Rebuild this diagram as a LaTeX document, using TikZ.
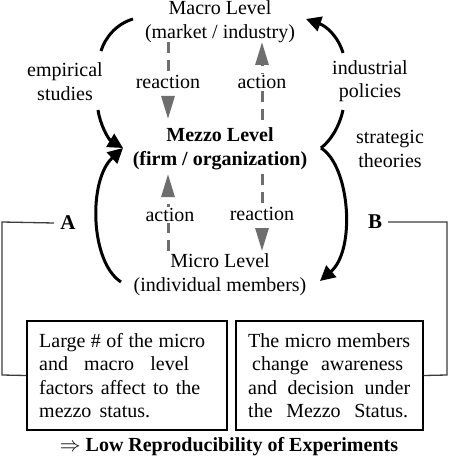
\documentclass[tikz,border=0pt]{standalone}
\usepackage{fontspec}
\setmainfont{Liberation Serif}
\usetikzlibrary{arrows.meta}
\definecolor{arrgray}{RGB}{110,110,110}
\definecolor{brgray}{RGB}{60,60,60}
\begin{document}
\begin{tikzpicture}[x=1pt,y=-1pt,
  txt/.style={font=\fontsize{20}{23.5}\selectfont, inner sep=0pt, align=center},
  lab/.style={font=\fontsize{20}{23.5}\selectfont, inner sep=1pt, fill=white},
  blackarc/.style={line width=3pt, black},
  blackhead/.style={blackarc, -{Triangle[length=15pt,width=15pt]}},
  dasharr/.style={arrgray, line width=3pt, dash pattern=on 11pt off 7pt, -{Triangle[length=23pt,width=13pt]}},
  boxst/.style={draw=black, line width=1.3pt},
  bracket/.style={draw=brgray, line width=1.3pt}]
\useasboundingbox (0,0) rectangle (450,465);

% level nodes
\node[txt] (macro) at (220,21.5) {Macro Level\\(market / industry)};
\node[txt,font=\fontsize{20}{23.5}\selectfont\bfseries] (mezzo) at (220,149) {Mezzo Level\\(firm / organization)};
\node[txt] (micro) at (220,274.5) {Micro Level\\(individual members)};
\node[txt] (emp) at (65,81.5) {empirical\\studies};
\node[txt] (ind) at (370,81) {industrial\\policies};
\node[txt] (strat) at (390,149) {strategic\\theories};
\node[txt,font=\fontsize{21}{24}\selectfont\bfseries] (A) at (68,223) {A};
\node[txt,font=\fontsize{21}{24}\selectfont\bfseries] (B) at (375,222) {B};

% dashed action / reaction arrows
\coordinate (d1s) at (168,42);  \coordinate (d1e) at (168,119);
\coordinate (d2s) at (262,120); \coordinate (d2e) at (262,42);
\coordinate (d3s) at (168,251); \coordinate (d3e) at (168,174);
\coordinate (d4s) at (262,174); \coordinate (d4e) at (262,251);
\draw[dasharr] (d1s) -- (d1e);
\draw[dasharr] (d2s) -- (d2e);
\draw[dasharr] (d3s) -- (d3e);
\draw[dasharr] (d4s) -- (d4e);
\node[lab] (r1) at (168,82) {reaction};
\node[lab] (a1) at (262,82) {action};
\node[lab] (a2) at (170,215) {action};
\node[lab] (r2) at (262,214) {reaction};

% black curved arrows
\coordinate (tl1) at (133,19);
\coordinate (tl2) at (101,51);
\draw[blackarc] (tl1) .. controls (116,24) and (105,38) .. (tl2);
\coordinate (el1) at (98,110);
\coordinate (tip) at (123,148);
\draw[blackhead] (el1) .. controls (100,124) and (108,139) .. (tip);
\coordinate (mb) at (121,282);
\draw[blackhead] (mb) .. controls (90,262) and (88,180) .. (tip);
\coordinate (rb1) at (343,110);
\coordinate (rb2) at (321,148);
\coordinate (rb3) at (320,281);
\draw[blackarc] (rb1) .. controls (339,128) and (330,141) .. (rb2);
\draw[blackhead] (rb2) .. controls (350,166) and (356,250) .. (rb3);
\coordinate (tr1) at (343,53);
\coordinate (tr2) at (306,19);
\draw[blackhead] (tr1) .. controls (338,36) and (326,26) .. (tr2);

% boxes
\node[boxst, minimum width=200pt, minimum height=109pt, inner sep=0pt] (lbox) at (127,375.5) {};
\node[boxst, minimum width=187pt, minimum height=109pt, inner sep=0pt] (rbox) at (329.5,375.5) {};
\node[txt, align=left, anchor=west] (ltext) at (39,375.5) {%
\makebox[166pt][s]{Large \# of the micro}\\
\makebox[150pt][s]{and macro level}\\
\makebox[161pt][s]{factors affect to the}\\
\makebox[111pt][s]{mezzo status.}};
\node[txt, align=left, anchor=west] (rtext) at (248,375.5) {%
\makebox[162pt][s]{The micro members}\\
\hspace*{4pt}\makebox[151pt][s]{change awareness}\\
\makebox[162pt][s]{and decision under}\\
\makebox[160pt][s]{the Mezzo Status.}};

% brackets
\coordinate (lc1) at (2,222);
\coordinate (lc2) at (2,375);
\draw[bracket] (A.west) ++(-6,0) -- (lc1) -- (lc2) -- (lbox.west);
\coordinate (rc1) at (447,222);
\coordinate (rc2) at (447,375);
\draw[bracket] (B.east) ++(6,0) -- (rc1) -- (rc2) -- (rbox.east);

% conclusion
\node[txt,font=\fontsize{20}{23.5}\selectfont\bfseries] (concl) at (229,447) {$\Rightarrow$ Low Reproducibility of Experiments};
\end{tikzpicture}
\end{document}
